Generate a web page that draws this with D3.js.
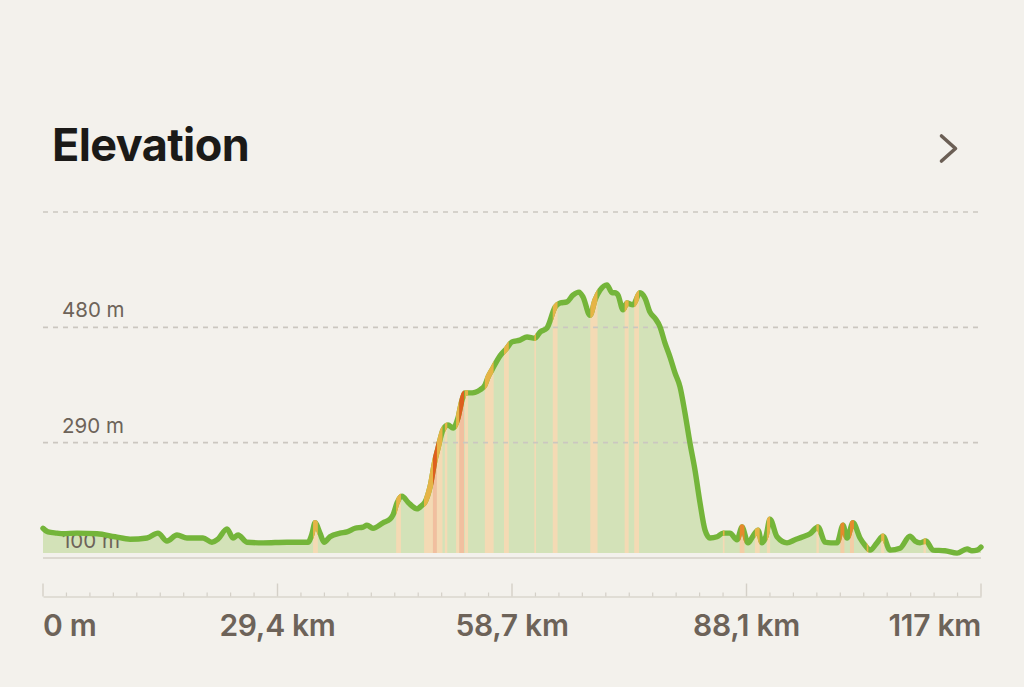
<!DOCTYPE html>
<html>
<head>
<meta charset="utf-8">
<script src="https://cdn.jsdelivr.net/npm/d3@7"></script>
<style>
  html, body { margin: 0; padding: 0; background: #f3f1ec; }
  svg { display: block; }
</style>
</head>
<body>
<svg id="chart" width="1024" height="687"></svg>
<script>
// ---- DATA ----
const title = "Elevation";
const totalKm = 117.4;
const distKm = [0,0.63,1.75,2.5,4.26,6.76,9.01,10.89,13.02,14.39,15.52,16.77,18.02,20.03,21.15,21.9,23.03,23.78,24.41,25.53,27.54,30.54,33.17,33.67,34.04,34.67,35.17,35.92,37.17,38.05,39.05,40.05,40.55,41.3,42.55,43.43,43.81,44.31,44.93,45.68,46.81,47.44,47.81,48.44,49.06,49.44,50.06,50.69,51.32,51.94,52.44,52.82,53.44,54.07,54.7,55.32,55.7,56.2,57.2,58.08,58.7,59.7,60.58,61.58,62.2,63.08,64.08,64.71,65.58,66.33,67.09,67.59,68.46,69.09,69.71,70.59,71.22,71.59,71.97,72.59,73.09,73.84,74.72,75.35,75.97,76.6,77.22,77.85,78.48,79.1,79.73,80.35,80.98,81.6,82.23,82.86,83.48,84.36,85.11,85.98,86.86,87.49,88.24,88.86,89.49,89.99,90.49,90.99,91.87,93.12,94.12,95.12,96.0,97.0,97.88,98.63,99.38,100.13,100.63,101.38,102.26,102.88,103.51,104.38,105.13,106.01,107.26,108.51,109.14,109.77,110.52,111.39,112.89,114.4,115.65,116.27,116.9,117.4];
const elevM = [149,143,141,140,141,140,135,131,133,141,128,138,133,133,126,131,148,133,138,126,125,126,126,140,158,141,126,135,141,143,149,151,154,149,158,164,171,191,202,192,181,187,192,217,261,281,311,319,314,331,360,372,372,373,377,385,398,410,433,446,456,459,464,462,472,479,513,520,522,533,538,530,500,525,541,550,537,537,533,509,520,517,537,528,505,495,481,454,431,405,382,339,289,245,191,146,133,135,141,141,130,151,125,136,146,125,136,164,135,125,130,135,140,151,126,125,125,154,133,158,133,121,113,125,136,113,116,136,128,125,128,113,112,108,115,112,113,118];
// grade sections: start km, end km, level (1 = moderate, 2 = steep, 3 = very steep)
const gradeStartKm = [33.8,44.2,47.7,48.8,49.3,50.3,51.7,52.1,52.8,55.3,57.7,61.5,63.8,68.5,72.8,74.0,85.1,87.2,89.1,90.6,96.8,99.8,101.0,103.1,104.9,110.2];
const gradeEndKm   = [34.4,44.8,48.8,49.3,50.0,50.6,52.1,52.7,53.2,56.4,58.3,61.7,64.4,69.4,73.3,74.6,85.3,87.8,89.7,91.0,97.1,100.3,101.5,103.3,105.3,110.5];
const gradeLevel   = [1,1,1,3,1,1,1,3,1,1,1,1,1,1,1,1,1,2,1,1,1,2,2,1,1,1];
const yTicks = [100, 290, 480, 670];
const yTickLabels = ["100 m", "290 m", "480 m", ""];
const xTickKm = [0, 29.35, 58.7, 88.05, 117.4];
const xTickLabels = ["0 m", "29,4 km", "58,7 km", "88,1 km", "117 km"];

// ---- STYLE ----
const bg = "#f3f1ec";
const lineGreen = "#74b53a";
const areaGreen = "#d3e2b8";
const stripeColors = {1: "#f4dab4", 2: "#f3cda6", 3: "#f1bf9f"};
const lineColors = {1: "#e6b446", 2: "#e58a2c", 3: "#de5f1e"};
const labelColor = "#6d6359";
const lineWidth = 5.4;

const svg = d3.select("#chart");
svg.append("rect").attr("width", 1024).attr("height", 687).attr("fill", bg);

const x = d3.scaleLinear().domain([0, totalKm]).range([43, 981]);
const y = d3.scaleLinear().domain([100, 670]).range([558, 212]);
const areaBase = y(100) - 5;

const pts = distKm.map((d, i) => ({d, e: elevM[i]}));
const curve = d3.curveMonotoneX;
const area = d3.area().x(p => x(p.d)).y0(areaBase).y1(p => y(p.e)).curve(curve);
const line = d3.line().x(p => x(p.d)).y(p => y(p.e)).curve(curve);

// title
svg.append("text").attr("x", 52).attr("y", 161)
  .attr("font-family", "Inter, 'DejaVu Sans', sans-serif")
  .attr("font-weight", 700).attr("font-size", 45).attr("letter-spacing", -0.6)
  .attr("fill", "#1b1a18").text(title);

// chevron
svg.append("path").attr("d", "M941.5,136 L955.5,148.5 L941.5,161")
  .attr("fill", "none").attr("stroke", "#6b5f55").attr("stroke-width", 3.6)
  .attr("stroke-linecap", "round").attr("stroke-linejoin", "round");

const defs = svg.append("defs");
defs.append("clipPath").attr("id", "areaClip").append("path").attr("d", area(pts));

// area
svg.append("path").attr("d", area(pts)).attr("fill", areaGreen);

// grade stripes
const stripes = svg.append("g").attr("clip-path", "url(#areaClip)");
gradeStartKm.forEach((s, i) => {
  stripes.append("rect")
    .attr("x", x(s)).attr("width", x(gradeEndKm[i]) - x(s))
    .attr("y", y(670)).attr("height", areaBase - y(670))
    .attr("fill", stripeColors[gradeLevel[i]]);
});

// baseline
svg.append("line").attr("x1", x(0)).attr("x2", x(totalKm))
  .attr("y1", y(100)).attr("y2", y(100))
  .attr("stroke", "#dcd8d0").attr("stroke-width", 2);

// gridlines (dashed), except baseline
yTicks.filter(v => v !== 100).forEach(v => {
  svg.append("line").attr("x1", x(0)).attr("x2", x(totalKm))
    .attr("y1", y(v)).attr("y2", y(v))
    .attr("stroke", "#cbc7c0").attr("stroke-width", 1.6)
    .attr("stroke-dasharray", "5,5");
});

// y labels
yTicks.forEach((v, i) => {
  if (!yTickLabels[i]) return;
  svg.append("text").attr("x", 62).attr("y", y(v) - 10)
    .attr("font-family", "Inter, 'DejaVu Sans', sans-serif")
    .attr("font-size", 20.5).attr("fill", labelColor).text(yTickLabels[i]);
});

// main line
svg.append("path").attr("d", line(pts)).attr("fill", "none")
  .attr("stroke", lineGreen).attr("stroke-width", lineWidth)
  .attr("stroke-linejoin", "round").attr("stroke-linecap", "round");

// colored line sections
gradeStartKm.forEach((s, i) => {
  const id = "seg" + i;
  defs.append("clipPath").attr("id", id).append("rect")
    .attr("x", x(s)).attr("width", x(gradeEndKm[i]) - x(s))
    .attr("y", 0).attr("height", 687);
  svg.append("path").attr("d", line(pts)).attr("fill", "none")
    .attr("clip-path", `url(#${id})`)
    .attr("stroke", lineColors[gradeLevel[i]]).attr("stroke-width", lineWidth)
    .attr("stroke-linejoin", "round");
});

// x axis
const axisY = 596.5;
const axis = d3.axisBottom(x)
  .tickValues(d3.range(0, 41).map(k => k * totalKm / 40))
  .tickSize(0).tickFormat("");
const gAxis = svg.append("g").attr("transform", `translate(0,${axisY})`).call(axis);
gAxis.select(".domain").attr("stroke", "#dad6ce").attr("stroke-width", 1.6);
gAxis.selectAll(".tick line").remove();
d3.range(0, 41).forEach(k => {
  const major = k % 10 === 0;
  svg.append("line")
    .attr("x1", x(k * totalKm / 40)).attr("x2", x(k * totalKm / 40))
    .attr("y1", axisY - (major ? 13 : 4)).attr("y2", axisY)
    .attr("stroke", "#d4d0c8").attr("stroke-width", major ? 1.4 : 1.2);
});

xTickKm.forEach((v, i) => {
  svg.append("text").attr("x", x(v)).attr("y", 636)
    .attr("text-anchor", i === 0 ? "start" : (i === xTickKm.length - 1 ? "end" : "middle"))
    .attr("font-family", "Inter, 'DejaVu Sans', sans-serif")
    .attr("font-weight", 600).attr("font-size", 30).attr("letter-spacing", -0.3)
    .attr("fill", labelColor).text(xTickLabels[i]);
});
</script>
</body>
</html>
